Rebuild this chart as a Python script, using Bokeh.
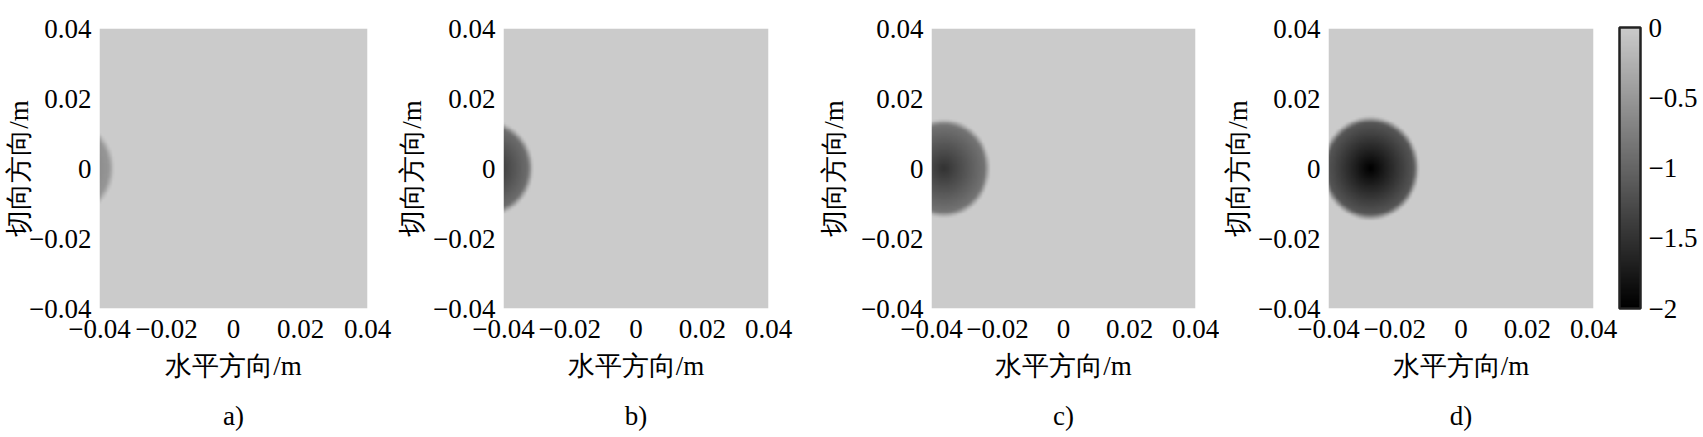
import numpy as np
from bokeh.plotting import figure
from bokeh.models import Range1d, LinearColorMapper, ColorBar, FixedTicker, Title
from bokeh.layouts import row
from bokeh.embed import file_html
from bokeh.resources import INLINE

# ---------------- data ----------------
panel_captions = ["a)", "b)", "c)", "d)"]
axis_ticks = [-0.04, -0.02, 0.0, 0.02, 0.04]
axis_tick_labels = ["\u22120.04", "\u22120.02", "0", "0.02", "0.04"]
cbar_ticks = [-2, -1.5, -1, -0.5, 0]
cbar_tick_labels = ["\u22122", "\u22121.5", "\u22121", "\u22120.5", "0"]
x_label = "水平方向/m"
y_label = "切向方向/m"
value_low = -2.0
value_high = 0.0
# one depression blob per panel: centre (m), radius (m), peak value,
# value left at the rim as a fraction of the peak, width of the soft rim (m)
blob_cx = [-0.0495, -0.045, -0.0365, -0.0275]
blob_cy = [0.0, 0.0, 0.0, 0.0]
blob_r = [0.0142, 0.0142, 0.0146, 0.0153]
blob_peak = [-0.9, -1.6, -1.5, -2.0]
blob_rim = [0.5, 0.5, 0.5, 0.5]
blob_edge = [0.0025, 0.0025, 0.0025, 0.0025]

# ---------------- style ----------------
FONT = "Liberation Serif"
FS = "27px"
levels = np.linspace(0, 203, 256).astype(int)
palette = ["#%02x%02x%02x" % (v, v, v) for v in levels]
mapper = LinearColorMapper(palette=palette, low=value_low, high=value_high)

n = 160
gx = np.linspace(-0.04, 0.04, n)
gy = np.linspace(-0.04, 0.04, n)
GX, GY = np.meshgrid(gx, gy)

# layout per panel (pixels)
frame_w = [268, 265, 264, 265]
b_left = [99, 110, 131, 109]
b_right = [26, 32, 24, 110]
b_top = [28, 26, 23, 23]
lab_standoff = [-8, 3, 9, 2]
FIG_H = 437
FRAME_H = 280

figs = []
for i in range(4):
    dist = np.sqrt((GX - blob_cx[i]) ** 2 + (GY - blob_cy[i]) ** 2)
    inner = 1 - (1 - blob_rim[i]) * np.clip(dist / blob_r[i], 0, 1)
    rim = np.clip((blob_r[i] - dist) / blob_edge[i], 0, 1)
    rim = rim * rim * (3 - 2 * rim)
    field = blob_peak[i] * inner * rim

    p = figure(frame_width=frame_w[i], frame_height=FRAME_H,
               x_range=Range1d(-0.04, 0.04), y_range=Range1d(-0.04, 0.04),
               output_backend="svg", toolbar_location=None,
               min_border_left=b_left[i], min_border_right=b_right[i],
               min_border_top=b_top[i],
               min_border_bottom=FIG_H - b_top[i] - FRAME_H,
               outline_line_color=None,
               background_fill_color="white", border_fill_color="white")
    p.grid.visible = False
    p.image(image=[field], x=-0.04, y=-0.04, dw=0.08, dh=0.08, color_mapper=mapper)

    for ax in (p.xaxis[0], p.yaxis[0]):
        ax.ticker = FixedTicker(ticks=axis_ticks)
        ax.major_label_overrides = dict(zip(axis_ticks, axis_tick_labels))
        ax.axis_line_color = None
        ax.major_tick_line_color = None
        ax.minor_tick_line_color = None
        ax.major_tick_in = 0
        ax.major_tick_out = 0
        ax.minor_tick_out = 0
        ax.major_label_text_font = FONT
        ax.major_label_text_font_size = FS
        ax.major_label_text_color = "black"
        ax.axis_label_text_font = FONT
        ax.axis_label_text_font_size = FS
        ax.axis_label_text_font_style = "normal"
        ax.axis_label_text_color = "black"
    p.xaxis.axis_label = x_label
    p.yaxis.axis_label = y_label
    p.xaxis.major_label_standoff = 11
    p.xaxis.axis_label_standoff = 10
    p.yaxis.major_label_standoff = 8
    p.yaxis.axis_label_standoff = lab_standoff[i]

    cap = Title(text=panel_captions[i], align="center", text_font=FONT,
                text_font_size=FS, text_font_style="normal", text_color="black",
                standoff=30)
    p.add_layout(cap, "below")

    if i == 3:
        cb = ColorBar(color_mapper=mapper, ticker=FixedTicker(ticks=cbar_ticks),
                      major_label_overrides=dict(zip(cbar_ticks, cbar_tick_labels)),
                      major_label_text_font=FONT, major_label_text_font_size=FS,
                      major_label_text_color="black",
                      major_tick_line_color=None, minor_tick_line_color=None,
                      bar_line_color="#222222", bar_line_width=2.5,
                      border_line_color=None, background_fill_color=None,
                      width=21, height=281, label_standoff=8,
                      padding=0, margin=25, location=(26, 0))
        p.add_layout(cb, "right")
    figs.append(p)

layout = row(*figs, spacing=0)
open("out.html", "w").write(file_html(layout, INLINE))
